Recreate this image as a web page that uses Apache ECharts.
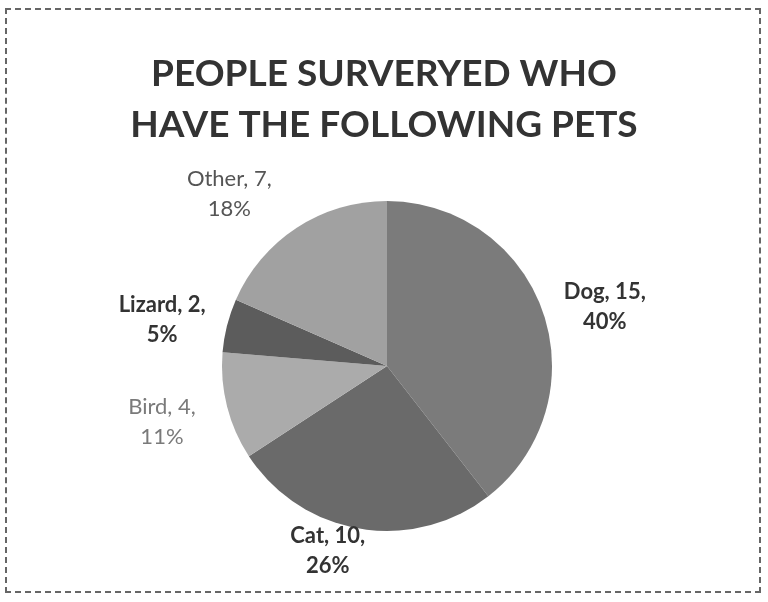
<!DOCTYPE html>
<html><head><meta charset="utf-8">
<script src="https://cdn.jsdelivr.net/npm/echarts@6/dist/echarts.min.js"></script>
<style>
html,body{margin:0;padding:0;background:#fff;}
#frame{position:absolute;left:5px;top:8px;width:756px;height:585px;border:2px dashed #666;box-sizing:border-box;}
#chart{position:absolute;left:0;top:0;width:768px;height:602px;}
</style></head>
<body>
<div id="frame"></div>
<div id="chart"></div>
<script>
const titleLines = ['PEOPLE SURVERYED WHO', 'HAVE THE FOLLOWING PETS'];
const categories = ['Dog', 'Cat', 'Bird', 'Lizard', 'Other'];
const values = [15, 10, 4, 2, 7];
const sliceColors = ['#7b7b7b', '#6a6a6a', '#ababab', '#5c5c5c', '#a1a1a1'];
const labelColors = ['#333333', '#333333', '#7a7a7a', '#333333', '#555555'];
const labelWeights = ['bold', 'bold', 'normal', 'bold', 'normal'];

// small style nudges for label placement (pixels)
const labelNudge = [[-5, 2], [14, 0], [-5, 10], [5, 0], [-8, -16]];

const chart = echarts.init(document.getElementById('chart'));
chart.setOption({
  animation: false,
  title: {
    text: titleLines.join('\n'),
    left: 'center', top: 44,
    textStyle: {fontFamily: 'Lato', fontSize: 37, fontWeight: 'bold', color: '#333', lineHeight: 51}
  },
  series: [{
    type: 'pie',
    center: [387, 366],
    radius: 165,
    startAngle: 90,
    clockwise: true,
    percentPrecision: 0,
    data: categories.map((c, i) => ({
      name: c, value: values[i],
      itemStyle: {color: sliceColors[i]},
      label: {color: labelColors[i], fontWeight: labelWeights[i]}
    })),
    label: {
      show: true,
      position: 'outside',
      fontFamily: 'Lato', fontSize: 22, lineHeight: 30, align: 'center',
      formatter: '{b}, {c},\n{d}%'
    },
    labelLine: {show: false, length: 22, length2: 0},
    labelLayout: function (p) {
      const r = p.labelRect;
      const n = labelNudge[p.dataIndex] || [0, 0];
      return {
        x: r.x + r.width / 2 + n[0],
        y: r.y + r.height / 2 + n[1],
        align: 'center',
        verticalAlign: 'middle'
      };
    }
  }]
});
</script>
</body></html>
